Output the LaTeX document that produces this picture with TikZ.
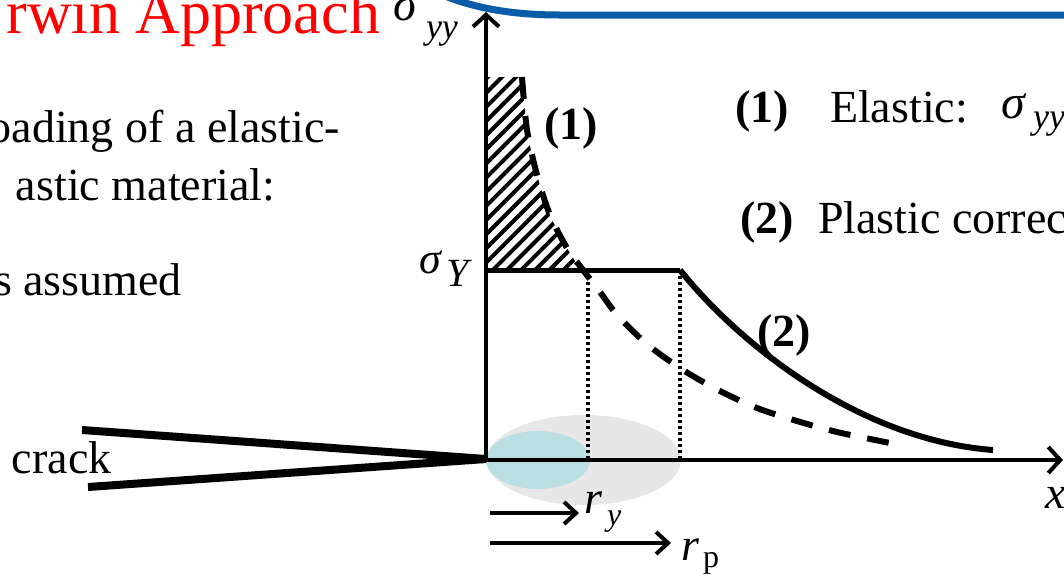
\documentclass[tikz,border=0pt]{standalone}
\usepackage{fontspec}
\setmainfont{Liberation Serif}
\usetikzlibrary{arrows.meta,patterns.meta}
\definecolor{slideblue}{RGB}{11,92,168}
\definecolor{zonegray}{RGB}{231,231,231}
\definecolor{zonecyan}{RGB}{185,223,227}
\newcommand{\fsz}[1]{\fontsize{#1}{#1}\selectfont}
\begin{document}
\begin{tikzpicture}[x=1pt,y=-1pt,
  lbl/.style={inner sep=0pt, outer sep=0pt},
  axisline/.style={line width=4pt, -{Straight Barb[length=12pt,width=26pt]}},
  rarrow/.style={line width=4pt, -{Straight Barb[length=12pt,width=22pt]}},
  crackline/.style={line width=8pt},
  elasticcurve/.style={line width=6pt, dash pattern=on 22pt off 17pt},
  plasticcurve/.style={line width=6pt},
  dotline/.style={line width=4pt, dash pattern=on 3pt off 3pt},
  hatch/.style={pattern={Lines[angle=45,distance=10pt,line width=4pt]}}]
\useasboundingbox (0,0) rectangle (1064,579);
\clip (0,0) rectangle (1064,579);
\fill[white] (0,0) rectangle (1064,579);

% coordinates
\coordinate (O) at (486,460);
\coordinate (ytip) at (486,12);
\coordinate (xtip) at (1063,460);
\coordinate (tip) at (486,459);
\coordinate (cu) at (82,430);
\coordinate (cl) at (88,487);
\coordinate (yl) at (486,270);
\coordinate (yr) at (680,270);
\coordinate (pend) at (993,450);
\coordinate (ry0) at (490,513);
\coordinate (ry1) at (579,513);
\coordinate (rp0) at (490,543);
\coordinate (rp1) at (671,543);

% blue slide line
\draw[slideblue, line width=7pt] (445,-4) .. controls (478,9) and (515,15) .. (560,15) -- (1070,15);

% zones
\fill[zonegray] (584,460) ellipse [x radius=97, y radius=45];
\fill[zonecyan] (538,460) ellipse [x radius=52, y radius=29];

% hatched region
\path[hatch] (486,77) -- plot[smooth] coordinates {(522,77) (527,130) (537,175) (550,215) (567,248) (581,270)} -- (yl) -- cycle;

% dotted verticals
\draw[dotline] (588,276) -- (588,460);
\draw[dotline] (yr) -- (680,460);

% axes
\draw[axisline] (O) -- (ytip);
\draw[axisline] (O) -- (xtip);

% crack
\draw[crackline] (cu) -- (tip);
\draw[crackline] (cl) -- (tip);

% yield line
\draw[line width=5pt] (yl) -- (yr);

% elastic (dashed)
\draw[elasticcurve] plot[smooth] coordinates {(522,77) (527,130) (537,175) (550,215) (567,248) (583,270) (600,292) (618,316) (648,345) (683,370) (718,390) (757,408) (797,421) (837,432) (890,443)};

% plastic (solid)
\draw[plasticcurve] (yr) .. controls (740,345) and (860,440) .. (pend);

% r arrows
\draw[rarrow] (ry0) -- (ry1);
\draw[rarrow] (rp0) -- (rp1);

% texts left
\node[lbl, anchor=base east, text=red] (title) at (380,33) {\fsz{62}rwin Approach};
\node[lbl, anchor=base east] (l1) at (340,142) {\fsz{46}oading of a elastic-};
\node[lbl, anchor=base west] (l2) at (16,200) {\fsz{46}astic material:};
\node[lbl, anchor=base east] (l3) at (182,295) {\fsz{46}s assumed};
\node[lbl, anchor=base west] (crack) at (12,473) {\fsz{46}crack};

% axis labels
\node[lbl, anchor=base west] (sig) at (393,20) {\fsz{48}\itshape σ};
\node[lbl, anchor=base west] (sigsub) at (426,38) {\fsz{36}\itshape yy};
\node[lbl, anchor=base west] (sY) at (419,273) {\fsz{44}\itshape σ};
\node[lbl, anchor=base west] (sYsub) at (446,286) {\fsz{40}\itshape Y};
\node[lbl, anchor=base west] (xl) at (1045,508) {\fsz{46}\itshape x};
\node[lbl, anchor=base west] (ry) at (584,513) {\fsz{46}\itshape r};
\node[lbl, anchor=base west] (rysub) at (607,525) {\fsz{32}\itshape y};
\node[lbl, anchor=base west] (rp) at (681,560) {\fsz{46}\itshape r};
\node[lbl, anchor=base west] (rpsub) at (703,567) {\fsz{32}p};

% curve labels
\node[lbl] (one) at (571,128) {\fsz{46}\bfseries (1)};
\node[lbl] (two) at (784,335) {\fsz{46}\bfseries (2)};

% legend right
\node[lbl, anchor=base west] (k1) at (735,122) {\fsz{46}\bfseries (1)};
\node[lbl, anchor=base west] (e1) at (830,122) {\fsz{46}Elastic:};
\node[lbl, anchor=base west] (e1s) at (1001,118) {\fsz{48}\itshape σ};
\node[lbl, anchor=base west] (e1ss) at (1033,128) {\fsz{36}\itshape yy};
\node[lbl, anchor=base west] (k2) at (740,233) {\fsz{46}\bfseries (2)};
\node[lbl, anchor=base west] (e2) at (818,233) {\fsz{46}Plastic correc};
\end{tikzpicture}
\end{document}
